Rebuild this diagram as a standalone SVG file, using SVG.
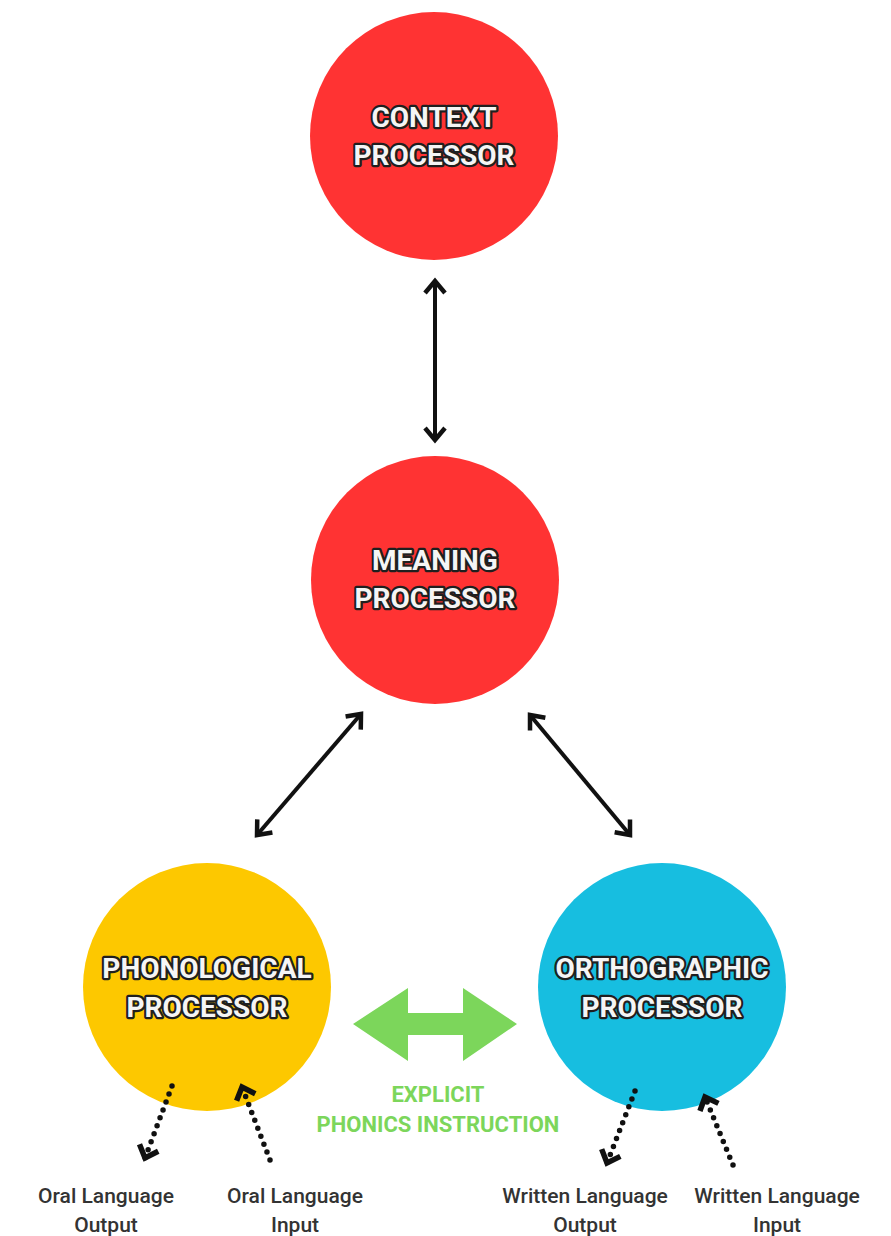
<svg xmlns="http://www.w3.org/2000/svg" width="891" height="1236" viewBox="0 0 891 1236">
<style>
.node-label{font-family:Roboto,"Liberation Sans",sans-serif;font-weight:bold;font-size:28px;fill:#f5f5f5;stroke:#1f1f1f;stroke-width:4.5px;stroke-linejoin:round;paint-order:stroke;text-anchor:middle}
.io{font-family:Roboto,"Liberation Sans",sans-serif;font-weight:500;font-size:21px;fill:#333;text-anchor:middle}
.green-label{font-family:Roboto,"Liberation Sans",sans-serif;font-weight:bold;font-size:22px;fill:#7cd65b;text-anchor:middle}
.solid{stroke:#111;stroke-width:4;fill:none}
.dotted{stroke:#111;stroke-width:5.5;fill:none;stroke-linecap:round;stroke-dasharray:0 8.5}
</style>
<defs>
<marker id="chev" markerUnits="userSpaceOnUse" markerWidth="30" markerHeight="30" refX="0" refY="0" viewBox="-20 -15 30 30" orient="auto-start-reverse" overflow="visible">
<path d="M-12,-10 L0,0 L-12,10" fill="none" stroke="#111" stroke-width="4.5" stroke-linejoin="miter"/>
</marker>
<marker id="chevd" markerUnits="userSpaceOnUse" markerWidth="30" markerHeight="30" refX="0" refY="0" viewBox="-20 -15 30 30" orient="auto" overflow="visible">
<path d="M-11,-10 L0,0 L-11,10" fill="none" stroke="#111" stroke-width="5.5" stroke-linejoin="miter"/>
</marker>
</defs>
<rect width="891" height="1236" fill="#ffffff"/>

<g id="context">
<circle cx="434" cy="136" r="124" fill="#ff3333"/>
<text class="node-label" x="434" y="127">CONTEXT</text>
<text class="node-label" x="434" y="165">PROCESSOR</text>
</g>
<g id="meaning">
<circle cx="435" cy="580" r="124" fill="#ff3333"/>
<text class="node-label" x="435" y="570">MEANING</text>
<text class="node-label" x="435" y="608">PROCESSOR</text>
</g>
<g id="phonological">
<circle cx="207" cy="987" r="124" fill="#fdc800"/>
<text class="node-label" x="207" y="978">PHONOLOGICAL</text>
<text class="node-label" x="207" y="1017">PROCESSOR</text>
</g>
<g id="orthographic">
<circle cx="662" cy="987" r="124" fill="#17bee0"/>
<text class="node-label" x="662" y="978">ORTHOGRAPHIC</text>
<text class="node-label" x="662" y="1017">PROCESSOR</text>
</g>
<g id="phonics-label">
<text class="green-label" x="438" y="1102">EXPLICIT</text>
<text class="green-label" x="438" y="1132">PHONICS INSTRUCTION</text>
</g>
<g id="oral-output">
<text class="io" x="106" y="1203">Oral Language</text>
<text class="io" x="106" y="1232">Output</text>
</g>
<g id="oral-input">
<text class="io" x="295" y="1203">Oral Language</text>
<text class="io" x="295" y="1232">Input</text>
</g>
<g id="written-output">
<text class="io" x="585" y="1203">Written Language</text>
<text class="io" x="585" y="1232">Output</text>
</g>
<g id="written-input">
<text class="io" x="777" y="1203">Written Language</text>
<text class="io" x="777" y="1232">Input</text>
</g>

<g id="connectors">
<line class="solid" x1="435" y1="281" x2="435" y2="440" marker-start="url(#chev)" marker-end="url(#chev)"/>
<line class="solid" x1="361" y1="714" x2="257" y2="835" marker-start="url(#chev)" marker-end="url(#chev)"/>
<line class="solid" x1="530" y1="715" x2="630" y2="835" marker-start="url(#chev)" marker-end="url(#chev)"/>
<polygon id="phonics-arrow" points="353,1024 408,988 408,1013 463,1013 463,988 517,1024 463,1061 463,1035 408,1035 408,1061" fill="#7cd65b"/>
<line class="dotted" x1="172" y1="1086" x2="145" y2="1158" marker-end="url(#chevd)"/>
<line class="dotted" x1="270" y1="1160" x2="242" y2="1087" marker-end="url(#chevd)"/>
<line class="dotted" x1="635" y1="1091" x2="607" y2="1163" marker-end="url(#chevd)"/>
<line class="dotted" x1="733" y1="1165" x2="705" y2="1097" marker-end="url(#chevd)"/>
</g>
</svg>
